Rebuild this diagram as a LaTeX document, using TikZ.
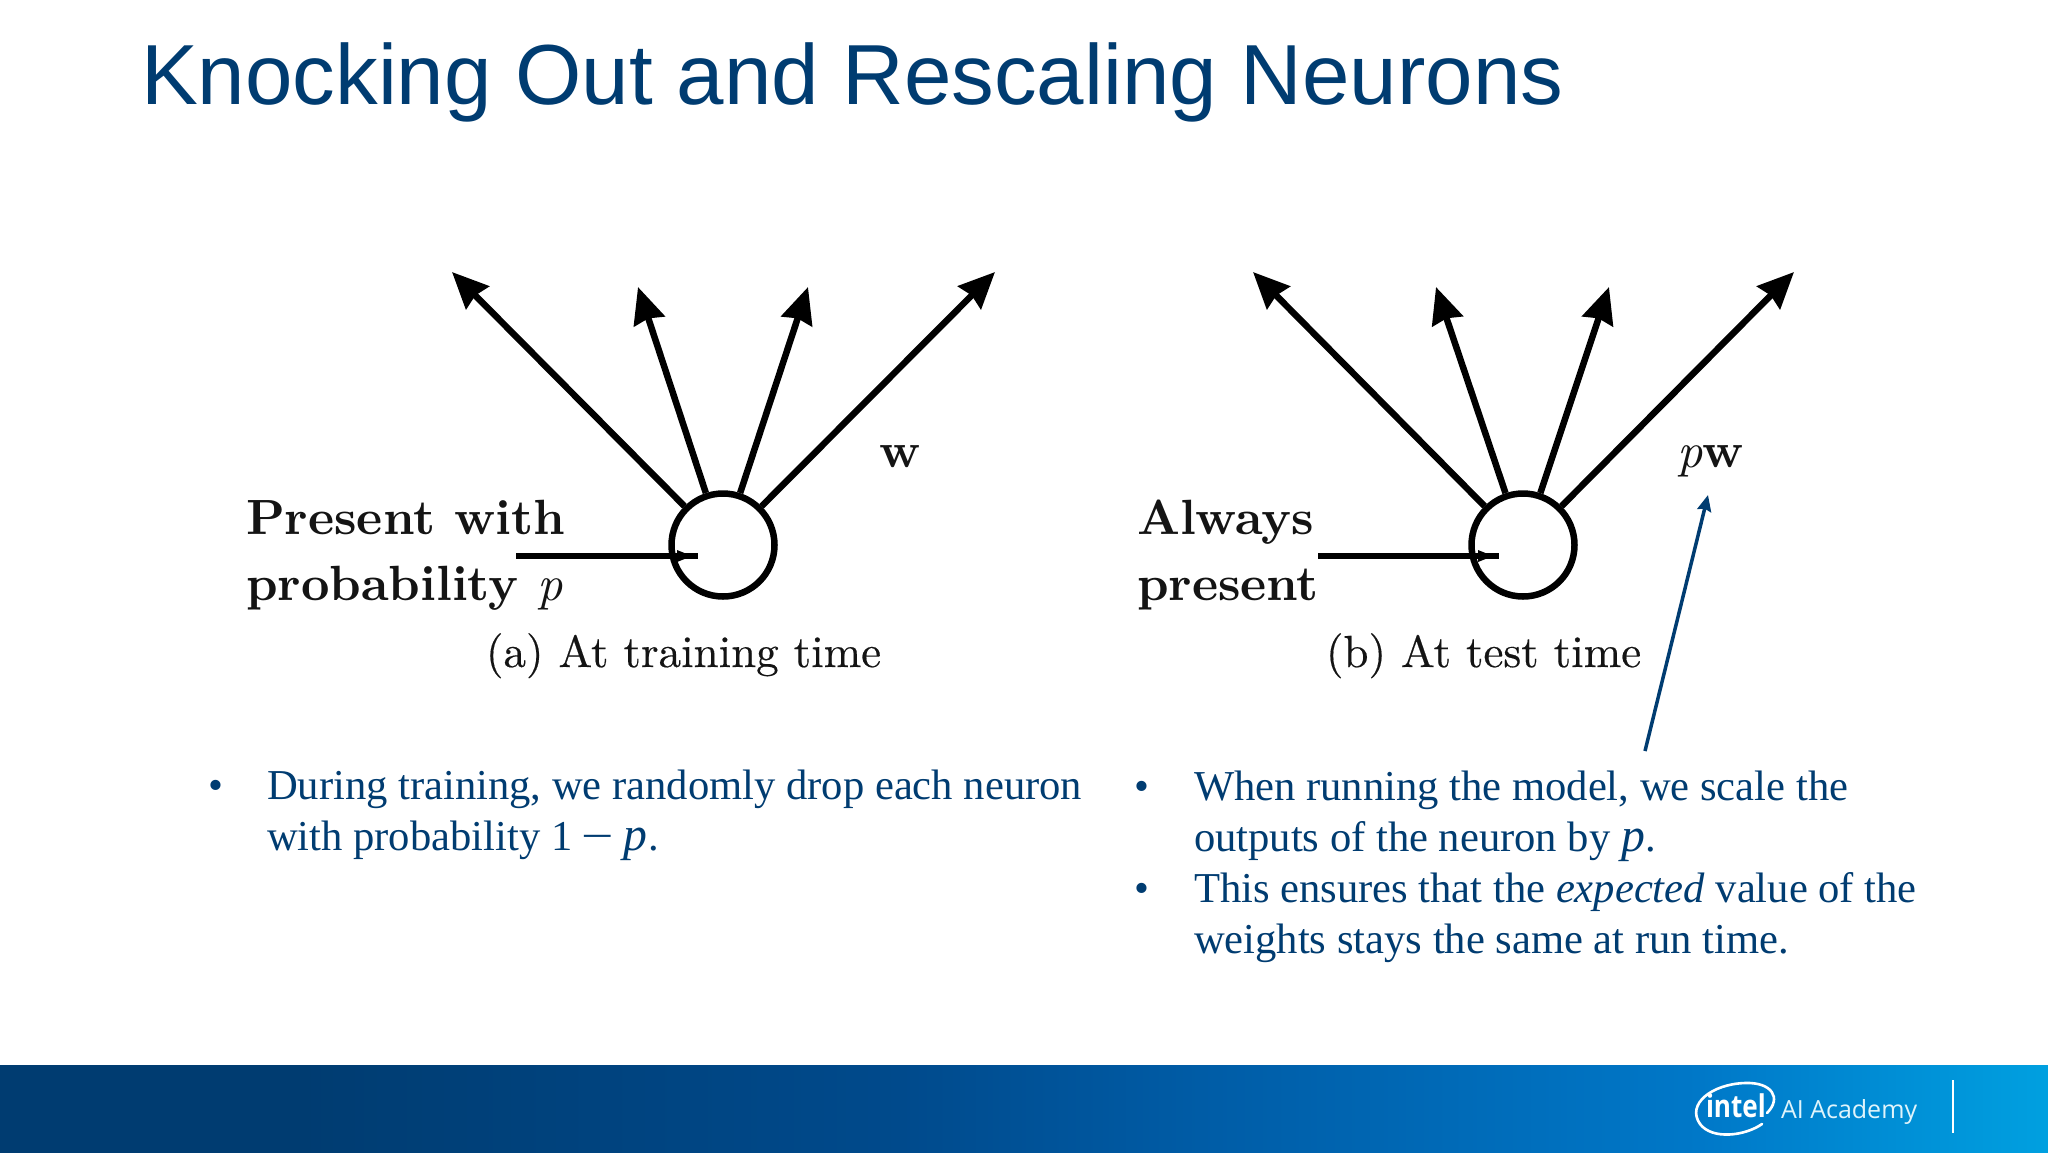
\documentclass[tikz,border=0pt]{standalone}
\usepackage{graphicx}
\usepackage{fontspec}
\usetikzlibrary{arrows.meta}
\newfontfamily\arialf{Liberation Sans}
\newfontfamily\timesf{Liberation Serif}
\newfontfamily\opensf{Open Sans}
\newfontfamily\lmten[Extension=.otf,BoldFont=lmroman10-bold,ItalicFont=lmroman10-italic]{lmroman10-regular}
\newfontfamily\lmcap[Extension=.otf,FakeBold=0.35]{lmroman10-regular}
\definecolor{navy}{HTML}{003C71}
\definecolor{ink}{HTML}{141414}
\definecolor{bandA}{HTML}{003C71}
\definecolor{bandB}{HTML}{004A8C}
\definecolor{bandC}{HTML}{005CA6}
\definecolor{bandD}{HTML}{0078C8}
\definecolor{bandE}{HTML}{00A0E0}
\pgfdeclarehorizontalshading{bandshade}{100bp}{color(0bp)=(bandA);color(32.3bp)=(bandA);color(47bp)=(bandB);color(54.3bp)=(bandC);color(66.5bp)=(bandD);color(75bp)=(bandE);color(100bp)=(bandE)}
\newcommand{\bodyp}{\scalebox{1.12}{\textit{p}}}
\tikzset{
  txt/.style={anchor=base west,inner sep=0pt,outer sep=0pt},
  titletext/.style={txt,text=navy,font=\arialf\fontsize{85.3}{85}\selectfont},
  bodytext/.style={txt,text=navy,font=\timesf\fontsize{42.6}{50}\selectfont},
  bullettext/.style={anchor=base,inner sep=0pt,text=navy,font=\timesf\fontsize{42.6}{50}\selectfont},
  boldlabel/.style={txt,text=ink,font=\lmten\bfseries\fontsize{49.5}{56}\selectfont},
  caption/.style={txt,text=ink,font=\lmcap\fontsize{45}{56}\selectfont},
  neuron/.style={circle,draw=black,line width=6.5pt,minimum size=103pt,inner sep=0pt},
  output/.style={draw=black,line width=6.5pt,-{Stealth[length=36pt,width=32pt,inset=3pt]}},
  inputline/.style={draw=black,line width=6.5pt},
  pointer/.style={draw=navy,line width=3.5pt,-{Stealth[length=16pt,width=14pt,inset=2pt]}},
}
\begin{document}
\begin{tikzpicture}[x=1pt,y=-1pt]
\useasboundingbox (0,0) rectangle (2048,1152);
\fill[white] (0,0) rectangle (2048,1152);
% footer band
\shade[shading=bandshade] (0,1065) rectangle (2048,1152);
% title
\node[titletext] (title) at (141,104) {Knocking Out and Rescaling Neurons};

% left neuron
\node[neuron] (c1) at (723,545) {};
\coordinate (a1) at (452,272);
\coordinate (a2) at (638,287);
\coordinate (a3) at (808,287);
\coordinate (a4) at (995,272);
\foreach \t in {a1,a2,a3,a4} \draw[output] (c1) -- (\t);
\coordinate (a0s) at (516,556);
\coordinate (a0e) at (698,556);
\draw[inputline] (a0s) -- (a0e);
\fill[black] (677,550) -- (692,556) -- (677,562) -- cycle;
\node[boldlabel] (l1) at (246,534) {Present with};
\node[boldlabel] (l2) at (246,600) {probability \textit{\mdseries p}};
\node[boldlabel] (w1) at (879,467) {w};
\node[caption] (cap1) at (486,667) {(a) At training time};

% right neuron
\node[neuron] (c2) at (1523,545) {};
\coordinate (b1) at (1253,272);
\coordinate (b2) at (1436,287);
\coordinate (b3) at (1609,287);
\coordinate (b4) at (1794,272);
\foreach \t in {b1,b2,b3,b4} \draw[output] (c2) -- (\t);
\coordinate (b0s) at (1318,556);
\coordinate (b0e) at (1499,556);
\draw[inputline] (b0s) -- (b0e);
\fill[black] (1478,550) -- (1493,556) -- (1478,562) -- cycle;
\node[boldlabel] (r1) at (1137,534) {Always};
\node[boldlabel] (r2) at (1137,600) {present};
\node[boldlabel] (w2) at (1677,467) {\textit{\mdseries p}w};
\node[caption] (cap2) at (1326,667) {(b) At test time};

% pointer
\coordinate (ps) at (1645,751);
\coordinate (pe) at (1708,495);
\draw[pointer] (ps) -- (pe);

% bullets
\node[bullettext] (bu1) at (216,799) {•};
\node[bodytext] (t1) at (267,799) {During training, we randomly drop each neuron};
\node[bodytext] (t2) at (267,850) {with probability 1\kern9pt\scalebox{1.35}[1]{−}\kern10pt\bodyp\kern1pt.};
\node[bullettext] (bu2) at (1142,800) {•};
\node[bodytext] (t3) at (1194,800) {When running the model, we scale the};
\node[bodytext] (t4) at (1194,851) {outputs of the neuron by \bodyp\kern1pt.};
\node[bullettext] (bu3) at (1142,902) {•};
\node[bodytext] (t5) at (1194,902) {This ensures that the \textit{expected} value of the};
\node[bodytext] (t6) at (1194,953) {weights stays the same at run time.};

% logo
\draw[white,line width=2.6pt,line cap=round] (1762,1124) .. controls (1745,1136) and (1712,1140) .. (1700,1124) .. controls (1686,1104) and (1712,1084) .. (1745,1083) .. controls (1772,1082) and (1782,1098) .. (1767,1113);
\node[txt,text=white,font=\opensf\bfseries\fontsize{29}{30}\selectfont] (intel) at (1706,1117) {\scalebox{0.9}[1.08]{intel}};
\node[txt,text=white!88!bandE,font=\opensf\fontsize{25}{30}\selectfont] (academy) at (1781,1118) {AI Academy};
\coordinate (va) at (1953,1080);
\coordinate (vb) at (1953,1133);
\draw[white,line width=1.5pt] (va) -- (vb);
\end{tikzpicture}
\end{document}
